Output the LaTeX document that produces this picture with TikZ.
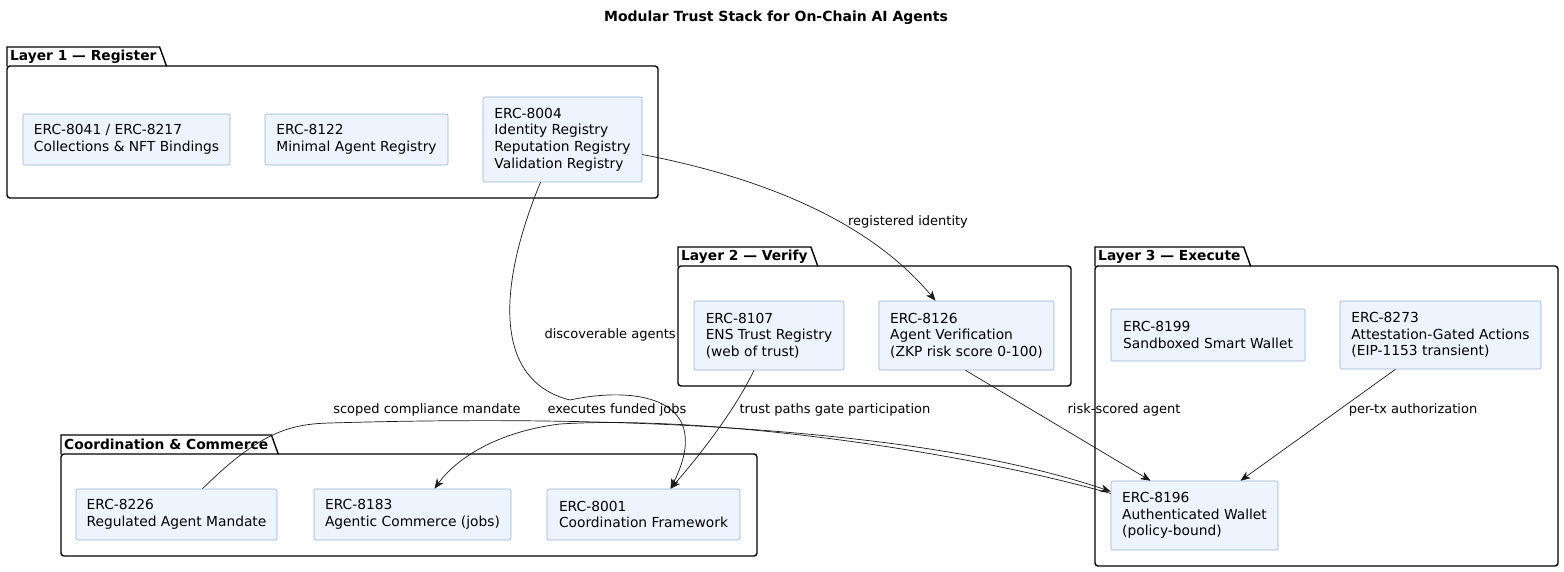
\documentclass[tikz,border=0pt]{standalone}
\usepackage{fontspec}
\setmainfont{DejaVu Sans}
\usepackage{tikz}
\usetikzlibrary{arrows.meta}

\definecolor{ercfill}{HTML}{EEF4FE}
\definecolor{ercline}{HTML}{94B0DA}
\definecolor{linkcol}{HTML}{181818}

\begin{document}
\begin{tikzpicture}[x=1pt,y=-1pt,link/.style={draw=linkcol,line width=0.7pt,-{Stealth[length=10pt,width=8pt,inset=3pt]}}]
		\tikzset{erc/.style = {draw=ercline,fill=ercfill,line width=0.6pt,rounded corners=2pt,align=left,inner xsep=10pt,inner ysep=0pt,font=\fontsize{13.8}{16.6}\selectfont}}
		\tikzset{pkg/.style = {draw=black,line width=1.4pt}}
		\tikzset{pkgname/.style = {anchor=north west,inner xsep=3pt,inner ysep=0pt,minimum height=19pt,font=\bfseries\fontsize{13.8}{16}\selectfont}}
		\tikzset{lbl/.style = {font=\fontsize{13}{16}\selectfont,inner sep=1pt}}
			\useasboundingbox (0,0) rectangle (1564,572);
			\node[font=\bfseries\fontsize{14}{16}\selectfont] (title) at (776,18) {Modular Trust Stack for On-Chain AI Agents};

			\node[pkgname] (t1) at (7,47) {Layer 1 — Register};
			\draw[pkg] (t1.south west) -- (t1.north west) -- (t1.north east) -- ([xshift=7pt]t1.south east);
			\draw[pkg,rounded corners=3pt] (7,66) rectangle (658,198);
			\node[pkgname] (t2) at (678,247) {Layer 2 — Verify};
			\draw[pkg] (t2.south west) -- (t2.north west) -- (t2.north east) -- ([xshift=7pt]t2.south east);
			\draw[pkg,rounded corners=3pt] (678,266) rectangle (1071,386);
			\node[pkgname] (t3) at (1095,247) {Layer 3 — Execute};
			\draw[pkg] (t3.south west) -- (t3.north west) -- (t3.north east) -- ([xshift=7pt]t3.south east);
			\draw[pkg,rounded corners=3pt] (1095,266) rectangle (1558,566);
			\node[pkgname] (t4) at (61,435) {Coordination \& Commerce};
			\draw[pkg] (t4.south west) -- (t4.north west) -- (t4.north east) -- ([xshift=7pt]t4.south east);
			\draw[pkg,rounded corners=3pt] (61,454) rectangle (757,556);

			\node[erc,minimum width=207pt,minimum height=51pt] (e8041) at (126.5,139.5) {ERC-8041 / ERC-8217\\Collections \& NFT Bindings};
			\node[erc,minimum width=183pt,minimum height=51pt] (e8122) at (356.5,139.5) {ERC-8122\\Minimal Agent Registry};
			\node[erc,minimum width=159pt,minimum height=85pt] (e8004) at (562.5,139.5) {ERC-8004\\Identity Registry\\Reputation Registry\\Validation Registry};
			\node[erc,minimum width=150pt,minimum height=69pt] (e8107) at (769,335.5) {ERC-8107\\ENS Trust Registry\\(web of trust)};
			\node[erc,minimum width=175pt,minimum height=69pt] (e8126) at (966.5,335.5) {ERC-8126\\Agent Verification\\(ZKP risk score 0-100)};
			\node[erc,minimum width=194pt,minimum height=52pt] (e8199) at (1208,335) {ERC-8199\\Sandboxed Smart Wallet};
			\node[erc,minimum width=201pt,minimum height=68pt] (e8273) at (1440.5,335) {ERC-8273\\Attestation-Gated Actions\\(EIP-1153 transient)};
			\node[erc,minimum width=167pt,minimum height=69pt] (e8196) at (1194.5,515.5) {ERC-8196\\Authenticated Wallet\\(policy-bound)};
			\node[erc,minimum width=201pt,minimum height=51pt] (e8226) at (176.5,514.5) {ERC-8226\\Regulated Agent Mandate};
			\node[erc,minimum width=197pt,minimum height=51pt] (e8183) at (412.5,514.5) {ERC-8183\\Agentic Commerce (jobs)};
			\node[erc,minimum width=193pt,minimum height=51pt] (e8001) at (643.5,514.5) {ERC-8001\\Coordination Framework};

			\draw[link] ([yshift=-15pt]e8004.east) .. controls (800,185) and (885,240) .. ([xshift=-31pt]e8126.north)
				node[lbl] at (908,222) {registered identity};
			\draw[link] ([xshift=-22pt]e8004.south) .. controls (500,280) and (490,380) .. (570,400)
				.. controls (640,385) and (715,400) .. ([xshift=27pt]e8001.north)
				node[lbl,anchor=east] at (677,335) {discoverable agents};
			\draw[link] ([xshift=-15pt]e8107.south) .. controls (735,410) and (700,455) .. ([xshift=27pt]e8001.north)
				node[lbl] at (835,410) {trust paths gate participation};
			\draw[link] ([xshift=-1pt]e8126.south) -- ([xshift=-44pt]e8196.north)
				node[lbl] at (1124,410) {risk-scored agent};
			\draw[link] ([xshift=-45pt]e8273.south) -- ([xshift=46pt]e8196.north)
				node[lbl] at (1413,410) {per-tx authorization};
			\draw[link] ([xshift=26pt]e8226.north) .. controls (260,432) and (290,424) .. (330,423)
				.. controls (700,412) and (960,440) .. ([yshift=24pt]e8196.west)
				node[lbl] at (427,410) {scoped compliance mandate};
			\draw[link] ([yshift=22pt]e8196.west) .. controls (950,448) and (700,415) .. (560,424)
				.. controls (495,432) and (455,460) .. ([xshift=22pt]e8183.north)
				node[lbl] at (617,410) {executes funded jobs};
		\end{tikzpicture}
\end{document}
